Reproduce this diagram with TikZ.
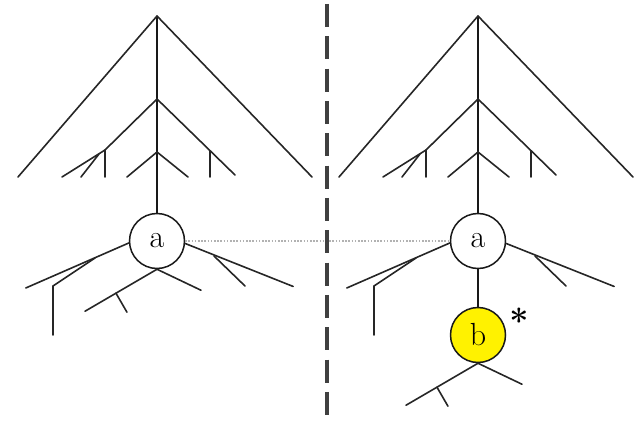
\documentclass[tikz,border=0pt]{standalone}
\usepackage{tikz}
\usetikzlibrary{calc}
\tikzset{
  stem/.style={line width=1.9pt, draw=black!90},
  twig/.style={line width=1.6pt, draw=black!85, line cap=round},
  cell/.style={circle, draw=black!90, line width=1.5pt, fill=white, minimum size=55pt, inner sep=0pt, font=\fontsize{32}{32}\selectfont},
  mutant/.style={cell, fill=yellow},
  mark label/.style={inner sep=0pt, anchor=north, font=\fontsize{34}{34}\selectfont\bfseries},
  link/.style={line width=1.6pt, draw=black!30, dash pattern=on 1.6pt off 1.6pt},
  cut/.style={line width=3.6pt, draw=black!75, dash pattern=on 23pt off 9.33pt}
}

\begin{document}
\begin{tikzpicture}[x=1pt, y=-1pt]
\useasboundingbox (0,0) rectangle (634,422);

% the two cells
\node[cell] (aL) at (157,241) {a};
\node[cell] (aR) at (478,241) {a};
\node[mutant] (bR) at (478,335) {b};
\node[mark label] (star) at (519,308) {*};

% shoots above each a
\foreach \p/\x in {L/157,R/478}{
  \coordinate (\p-top) at (\x,16);
  \coordinate (\p-mid) at (\x,99);
  \coordinate (\p-low) at (\x,152);
  \coordinate (\p-ml) at (\x-52,150);
  \coordinate (\p-mr) at (\x+53,151);
  \draw[stem] (\p-top) -- (a\p.north);
  \draw[twig] (\p-top) -- ++(-139,161);
  \draw[twig] (\p-top) -- ++(155,161);
  \draw[twig] (\p-mid) -- (\p-ml) -- ++(0,27);
  \draw[twig] (\p-ml) -- ++(-43,27);
  \draw[twig] ($(\p-ml)+(-6,4)$) -- ++(-18,23);
  \draw[twig] (\p-mid) -- ++(78,76);
  \draw[twig] (\p-mr) -- ++(0,26);
  \draw[twig] (\p-low) -- ++(-30,25);
  \draw[twig] (\p-low) -- ++(31,25);
  % roots at the sides of a
  \draw[twig] (a\p.184) -- ++(-103,45);
  \draw[twig] ($(\p-top)+(-62,242)$) -- ++(-42,28) -- ++(0,49);
  \draw[twig] (a\p.-5) -- ++(108,43);
  \draw[twig] ($(\p-top)+(57,240)$) -- ++(31,30);
}

% roots below a (left) and b (right)
\foreach \n in {aL,bR}{
  \draw[twig] (\n.south) -- ++(-72,42) coordinate (\n-tip);
  \draw[twig] (\n.south) -- ++(44,21);
  \draw[twig] ($(\n.south)!0.57!(\n-tip)$) -- ++(11,19);
}

\draw[stem] (aR) -- (bR);
\draw[link] (aL) -- (aR);

% divider
\coordinate (cut-top) at (327,4);
\coordinate (cut-bot) at (327,422);
\draw[cut] (cut-top) -- (cut-bot);
\end{tikzpicture}
\end{document}
